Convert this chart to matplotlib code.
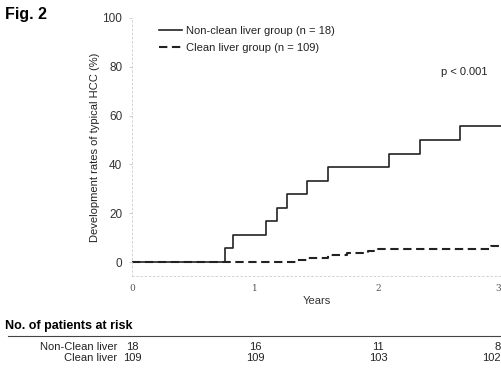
import matplotlib
matplotlib.use("Agg")
import matplotlib.pyplot as plt
import matplotlib.transforms as mtrans

plt.rcParams['font.family'] = ['Liberation Sans', 'DejaVu Sans']

# step curves (years, cumulative rate %)
nonclean_t = [0, 0.76, 0.82, 1.09, 1.18, 1.26, 1.42, 1.59, 2.09, 2.34, 2.67, 3.0]
nonclean_y = [0, 5.6, 11.1, 16.7, 22.2, 27.8, 33.3, 38.9, 44.4, 50.0, 55.6, 55.6]
clean_t = [0, 1.33, 1.42, 1.59, 1.75, 1.92, 2.0, 2.92, 3.0]
clean_y = [0, 0.92, 1.83, 2.75, 3.67, 4.59, 5.5, 6.42, 6.42]

yticks = [0, 20, 40, 60, 80, 100]
xticks = [0, 1, 2, 3]
risk_rows = ["Non-Clean liver", "Clean liver"]
risk_nonclean = [18, 16, 11, 8]
risk_clean = [109, 109, 103, 102]

fig = plt.figure(figsize=(5.01, 3.68), dpi=100)
ax = fig.add_axes([132/501, 1-276/368, 369/501, 258/368])

ax.step(nonclean_t, nonclean_y, where='post', color='#222222', lw=1.2,
        label='Non-clean liver group (n = 18)')
ax.step(clean_t, clean_y, where='post', color='#222222', lw=1.5,
        dashes=(4, 2.2), label='Clean liver group (n = 109)')

ax.set_xlim(0, 3)
ax.set_ylim(-5.7, 100)
ax.set_yticks(yticks)
ax.set_xticks(xticks)
ax.tick_params(axis='y', length=2, width=0.5, color='#bbbbbb', labelsize=8.5,
               pad=5, labelcolor='#333333')
ax.tick_params(axis='x', length=0, labelsize=6.5, pad=6, labelcolor='#555555')
xlabs = ax.get_xticklabels()
for lab in xlabs:
    lab.set_family('DejaVu Serif')
xlabs[-1].set_horizontalalignment('right')
for s in ['top', 'right']:
    ax.spines[s].set_visible(False)
for s in ['left', 'bottom']:
    ax.spines[s].set_color('#cccccc')
    ax.spines[s].set_linewidth(0.6)
    ax.spines[s].set_linestyle((0, (2, 3)))

ax.set_xlabel('Years', fontsize=8, color='#333333', labelpad=2)
ax.set_ylabel('Development rates of typical HCC (%)', fontsize=8,
              color='#222222', labelpad=2)

leg = ax.legend(loc='upper left', bbox_to_anchor=(0.06, 0.985), frameon=False,
                fontsize=8, handlelength=2.1, handletextpad=0.4,
                labelspacing=0.6, borderaxespad=0)
for t in leg.get_texts():
    t.set_color('#222222')

ax.text(2.89, 78, 'p < 0.001', fontsize=8, ha='right', va='center',
        color='#222222')

fig.text(5/501, 1-15/368, 'Fig. 2', fontsize=11.5, fontweight='bold',
         va='center', ha='left')

# risk table
fig.text(5/501, 1-326/368, 'No. of patients at risk', fontsize=9,
         fontweight='bold', va='center', ha='left')
fig.add_artist(plt.Line2D([8/501, 1.0], [1-336/368, 1-336/368],
                          color='#444444', lw=0.8))
trans = mtrans.blended_transform_factory(ax.transData, fig.transFigure)
row_y = [1-347/368, 1-358/368]
for name, yy in zip(risk_rows, row_y):
    fig.text(117/501, yy, name, fontsize=8, ha='right', va='center',
             color='#222222')
for vals, yy in zip([risk_nonclean, risk_clean], row_y):
    for x, v in zip(xticks, vals):
        ha = 'right' if x == xticks[-1] else 'center'
        xx = x - 0.005 if x == xticks[-1] else x
        ax.text(xx, yy, str(v), transform=trans, fontsize=8, ha=ha,
                va='center', color='#222222')

fig.savefig('out.png', dpi=100)
